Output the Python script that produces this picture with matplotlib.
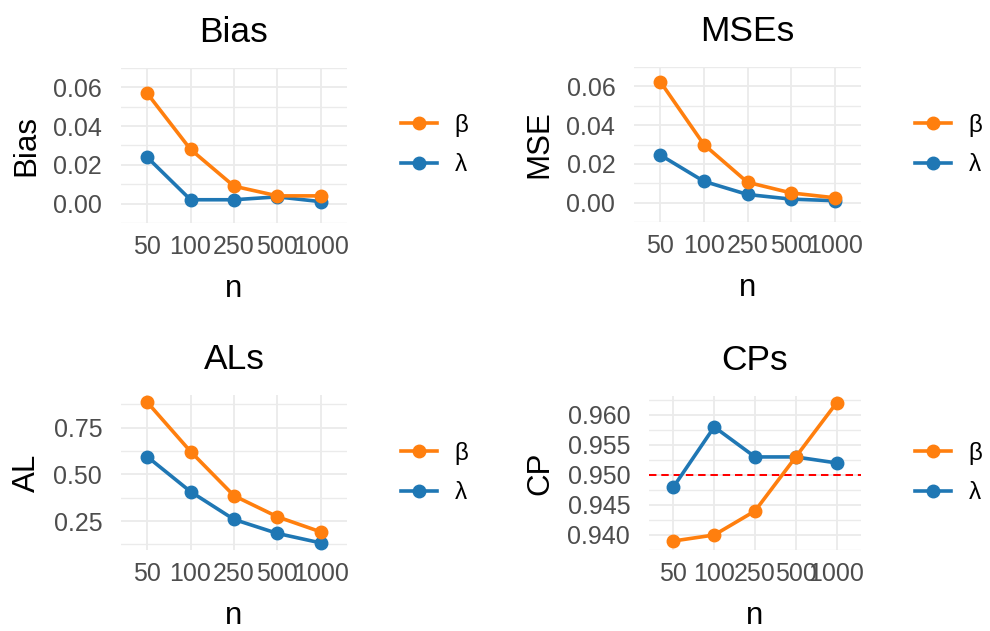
import matplotlib
matplotlib.use("Agg")
import matplotlib.pyplot as plt
from matplotlib.lines import Line2D

# simulation results by sample size
n_labels = ["50", "100", "250", "500", "1000"]

bias_beta = [0.057, 0.028, 0.009, 0.004, 0.004]
bias_lambda = [0.024, 0.002, 0.002, 0.0035, 0.001]

mse_beta = [0.0625, 0.030, 0.0105, 0.005, 0.0025]
mse_lambda = [0.0246, 0.011, 0.0042, 0.0018, 0.001]

al_beta = [0.888, 0.623, 0.386, 0.273, 0.192]
al_lambda = [0.596, 0.408, 0.259, 0.184, 0.133]

cp_beta = [0.939, 0.940, 0.944, 0.953, 0.962]
cp_lambda = [0.948, 0.958, 0.953, 0.953, 0.952]

W, H = 990, 631
ORANGE = "#ff7f0e"
BLUE = "#1f77b4"
GRID = "#EBEBEB"

plt.rcParams["font.family"] = ["Liberation Sans", "DejaVu Sans"]

fig = plt.figure(figsize=(W / 100, H / 100), dpi=100)


def px_axes(x0, y0, x1, y1):
    """axes from pixel box (top-left origin)"""
    return fig.add_axes([x0 / W, 1 - y1 / H, (x1 - x0) / W, (y1 - y0) / H])


def panel(box, beta, lam, title, ylabel, yticks, ytick_fmt, leg_xy, ref=None):
    ax = px_axes(*box)
    x = list(range(len(n_labels)))

    lo = min(beta + lam)
    hi = max(beta + lam)
    span = hi - lo
    ax.set_ylim(lo - 0.05 * span, hi + 0.05 * span)
    ax.set_xlim(-0.6, len(n_labels) - 0.4)

    # grid like theme_minimal
    ax.set_yticks(yticks)
    step = yticks[1] - yticks[0]
    minor = [t + step / 2 for t in [yticks[0] - step] + list(yticks)]
    ax.set_yticks(minor, minor=True)
    ax.set_yticklabels([ytick_fmt.format(t) for t in yticks])
    ax.set_xticks(x)
    ax.set_xticklabels(n_labels)
    ax.grid(True, which="major", color=GRID, lw=1.3)
    ax.grid(True, which="minor", axis="y", color=GRID, lw=1.0)
    ax.set_axisbelow(True)
    for s in ax.spines.values():
        s.set_visible(False)
    ax.tick_params(which="both", length=0)
    ax.tick_params(axis="y", pad=13.5, labelsize=18, labelcolor="#4D4D4D")
    ax.tick_params(axis="x", pad=8.8, labelsize=18, labelcolor="#4D4D4D")

    if ref is not None:
        ax.axhline(ref, color="red", lw=1.45, ls=(0, (3.7, 2.4)), zorder=1.5)

    ax.plot(x, lam, color=BLUE, lw=2.6, marker="o", ms=9, zorder=3)
    ax.plot(x, beta, color=ORANGE, lw=2.6, marker="o", ms=9, zorder=3)

    ax.set_title(title, fontsize=25.5, pad=19)
    ax.set_xlabel("n", fontsize=22.5, labelpad=10.5)
    ax.set_ylabel(ylabel, fontsize=22.5, labelpad=8.5)

    handles = [Line2D([], [], color=ORANGE, lw=2.6, marker="o", ms=9),
               Line2D([], [], color=BLUE, lw=2.6, marker="o", ms=9)]
    fig.legend(handles, ["β", "λ"], loc="center left",
               bbox_to_anchor=(leg_xy[0] / W, 1 - leg_xy[1] / H),
               frameon=False, fontsize=17.5, handlelength=1.47,
               handletextpad=0.74, labelspacing=0.7, borderpad=0,
               borderaxespad=0)
    return ax


panel((121, 68, 347, 223), bias_beta, bias_lambda, "Bias", "Bias",
      [0.0, 0.02, 0.04, 0.06], "{:.2f}", (401, 145))
panel((634, 67, 861, 222), mse_beta, mse_lambda, "MSEs", "MSE",
      [0.0, 0.02, 0.04, 0.06], "{:.2f}", (915, 145))
panel((121, 395, 347, 550), al_beta, al_lambda, "ALs", "AL",
      [0.25, 0.50, 0.75], "{:.2f}", (401, 473))
panel((649, 396, 861, 550), cp_beta, cp_lambda, "CPs", "CP",
      [0.940, 0.945, 0.950, 0.955, 0.960], "{:.3f}", (915, 473), ref=0.95)

fig.savefig("out.png", dpi=100, facecolor="white")
